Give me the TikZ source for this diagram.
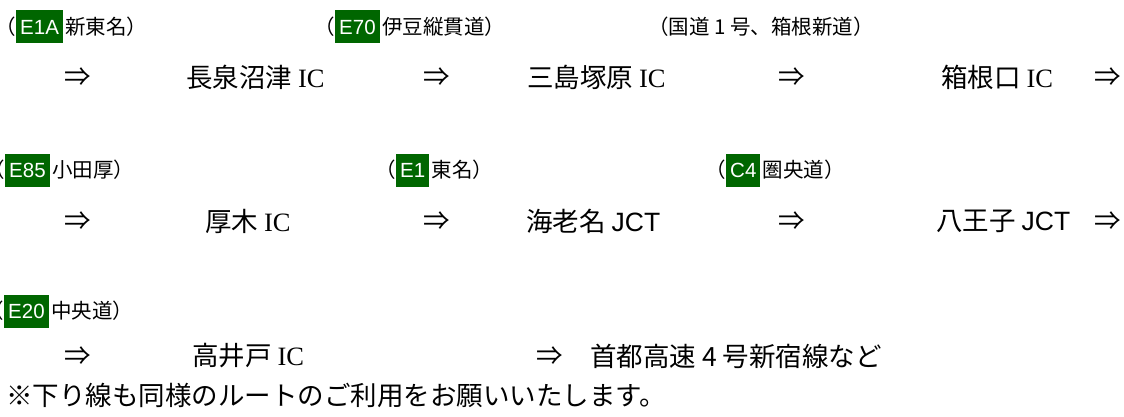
\documentclass[tikz,border=0pt]{standalone}
\usepackage{fontspec}
\usepackage{tikz}
\usetikzlibrary{positioning}
\setmainfont{Noto Sans CJK JP}
\newfontfamily\icfont{Liberation Serif}
\newfontfamily\latinsans{Liberation Sans}
\definecolor{roadgreen}{RGB}{0,102,0}
\newcommand{\IC}{{\icfont IC}}
\newcommand{\JCT}{{\latinsans JCT}}

\begin{document}
\begin{tikzpicture}[x=1pt,y=-1pt,
   every node/.style={inner sep=0pt},
   place/.style={anchor=west,font=\fontsize{26.5}{26.5}\selectfont},
   go/.style={anchor=west,font=\fontsize{26.5}{26.5}\selectfont},
   paren/.style={font=\fontsize{20.5}{20.5}\selectfont},
   road/.style={font=\fontsize{20.5}{20.5}\selectfont},
   badge/.style={anchor=west,fill=roadgreen,text=white,inner xsep=4pt,minimum height=33pt,font=\latinsans\fontsize{20.5}{20.5}\selectfont}]
\useasboundingbox (0,0) rectangle (1124,417);
\node[badge] (e1a) at (16,27) {E1A};
\node[paren,left=0pt of e1a] (p1) {（};
\node[road,right=2pt of e1a] (shintomei) {新東名）};
\node[badge] (e70) at (335,27) {E70};
\node[paren,left=0pt of e70] (p2) {（};
\node[road,right=2pt of e70] (izu) {伊豆縦貫道）};
\node[road,anchor=west] (kokudo) at (648,27) {（国道 1 号、箱根新道）};
\node[go] (a1) at (64,77) {⇒};
\node[place] (nagaizumi) at (186,77) {長泉沼津 \IC};
\node[go] (a2) at (423,77) {⇒};
\node[place] (mishima) at (527,77) {三島塚原 \IC};
\node[go] (a3) at (778,77) {⇒};
\node[place] (hakoneguchi) at (941,77) {箱根口 \IC};
\node[go] (a4) at (1094,77) {⇒};
\node[badge] (e85) at (5,170) {E85};
\node[paren,left=0pt of e85] (p3) {（};
\node[road,right=2pt of e85] (odaatsu) {小田厚）};
\node[badge] (e1) at (396,170) {E1};
\node[paren,left=0pt of e1] (p4) {（};
\node[road,right=2pt of e1] (tomei) {東名）};
\node[badge] (c4) at (726,170) {C4};
\node[paren,left=0pt of c4] (p5) {（};
\node[road,right=2pt of c4] (kenodo) {圏央道）};
\node[go] (b1) at (64,221) {⇒};
\node[place] (atsugi) at (205,221) {厚木 \IC};
\node[go] (b2) at (423,221) {⇒};
\node[place] (ebina) at (526,221) {海老名 \JCT};
\node[go] (b3) at (778,221) {⇒};
\node[place] (hachioji) at (936,221) {八王子 \JCT};
\node[go] (b4) at (1094,221) {⇒};
\node[badge] (e20) at (4,311) {E20};
\node[paren,left=0pt of e20] (p6) {（};
\node[road,right=2pt of e20] (chuo) {中央道）};
\node[go] (c1) at (64,356) {⇒};
\node[place] (takaido) at (192,356) {高井戸 \IC};
\node[go] (c2) at (536,356) {⇒};
\node[place] (shuto) at (590,356) {首都高速 4 号新宿線など};
\node[place] (note) at (6,395) {※下り線も同様のルートのご利用をお願いいたします。};
\end{tikzpicture}
\end{document}
